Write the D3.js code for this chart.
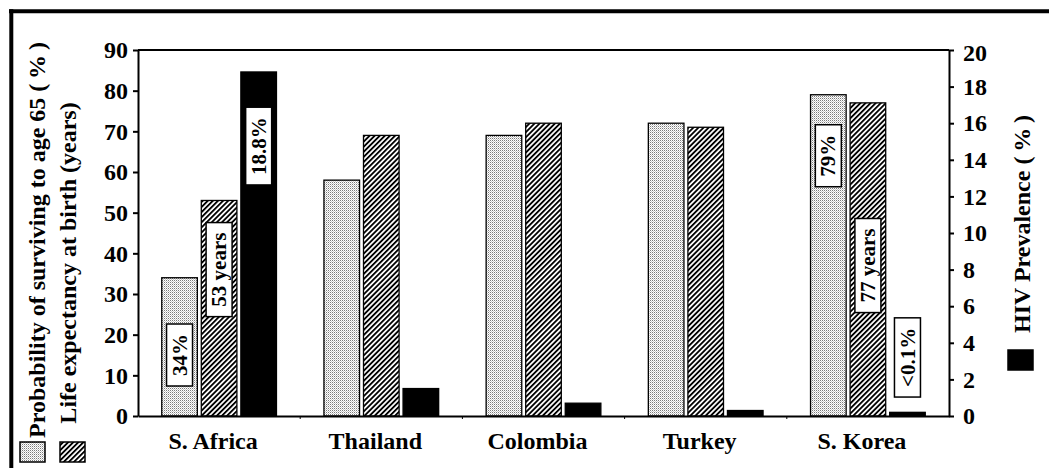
<!DOCTYPE html>
<html>
<head>
<meta charset="utf-8">
<script src="https://cdn.jsdelivr.net/npm/d3@7"></script>
<style>
  html, body { margin: 0; padding: 0; background: #fff; }
  svg { display: block; }
  text { font-family: "Liberation Serif", "Times New Roman", serif; font-weight: bold; fill: #000; }
</style>
</head>
<body>
<svg id="chart" width="1049" height="468"></svg>
<script>
// ---- data ----
const categories = ["S. Africa", "Thailand", "Colombia", "Turkey", "S. Korea"];
const seriesNames = ["Probability of surviving to age 65 (\u2009%\u2009)", "Life expectancy at birth (years)", "HIV Prevalence (\u2009%\u2009)"];
const survivalTo65 = [34, 58, 69, 72, 79];        // left axis, %
const lifeExpectancy = [53, 69, 72, 71, 77];       // left axis, years
const hivPrevalence = [18.8, 1.5, 0.7, 0.3, 0.2];  // right axis, %
const leftTicks = [0, 10, 20, 30, 40, 50, 60, 70, 80, 90];
const rightTicks = [0, 2, 4, 6, 8, 10, 12, 14, 16, 18, 20];
// boxed value labels: category, series index, text, centre value on that series' axis
const labelCategory = ["S. Africa", "S. Africa", "S. Africa", "S. Korea", "S. Korea", "S. Korea"];
const labelSeries = [0, 1, 2, 0, 1, 2];
const labelText = ["34%", "53 years", "18.8%", "79%", "77 years", "<0.1%"];
const labelCentre = [15, 36, 14.75, 64, 37, 3.2];

// ---- layout ----
const svg = d3.select("#chart");
const W = 1049, H = 468;
const plot = { left: 138, right: 949, top: 50, bottom: 416 };

const x0 = d3.scaleBand().domain(categories).range([plot.left, plot.right]).padding(0);
const x1 = d3.scaleBand().domain([0, 1, 2]).range([0, x0.bandwidth()]).paddingInner(0.1).paddingOuter(0.6);
const yL = d3.scaleLinear().domain([0, 90]).range([plot.bottom, plot.top]);
const yR = d3.scaleLinear().domain([0, 20]).range([plot.bottom, plot.top]);
const yFor = s => (s === 2 ? yR : yL);

// ---- patterns ----
const defs = svg.append("defs");
const dots = defs.append("pattern").attr("id", "stipple").attr("patternUnits", "userSpaceOnUse")
  .attr("width", 2).attr("height", 2);
dots.append("rect").attr("width", 2).attr("height", 2).attr("fill", "#fff");
dots.append("rect").attr("width", 1).attr("height", 1).attr("fill", "#7a7a7a");
dots.append("rect").attr("x", 1).attr("y", 1).attr("width", 1).attr("height", 1).attr("fill", "#c8c8c8");

const hatch = defs.append("pattern").attr("id", "hatch").attr("patternUnits", "userSpaceOnUse")
  .attr("width", 3.6).attr("height", 10).attr("patternTransform", "rotate(45)");
hatch.append("rect").attr("width", 3.6).attr("height", 10).attr("fill", "#fff");
hatch.append("line").attr("x1", 0.9).attr("x2", 0.9).attr("y1", 0).attr("y2", 10)
  .attr("stroke", "#000").attr("stroke-width", 1.9);

const fills = ["url(#stipple)", "url(#hatch)", "#000"];

svg.append("rect").attr("width", W).attr("height", H).attr("fill", "#fff");

// outer frame (top and left)
svg.append("line").attr("x1", 9).attr("x2", W).attr("y1", 11.3).attr("y2", 11.3)
  .attr("stroke", "#000").attr("stroke-width", 4);
svg.append("line").attr("x1", 11.3).attr("x2", 11.3).attr("y1", 9.3).attr("y2", H)
  .attr("stroke", "#000").attr("stroke-width", 4);

// ---- bars ----
const seriesValues = [survivalTo65, lifeExpectancy, hivPrevalence];
const barData = [];
categories.forEach((c, i) => seriesValues.forEach((vals, s) => barData.push({ c, s, v: vals[i] })));

svg.append("g").selectAll("rect").data(barData).join("rect")
  .attr("x", d => x0(d.c) + x1(d.s))
  .attr("width", x1.bandwidth())
  .attr("y", d => yFor(d.s)(d.v))
  .attr("height", d => plot.bottom - yFor(d.s)(d.v))
  .attr("fill", d => fills[d.s])
  .attr("stroke", "#000").attr("stroke-width", 1.3);

// ---- axes ----
const axL = svg.append("g").attr("transform", `translate(${plot.left},0)`)
  .call(d3.axisLeft(yL).tickValues(leftTicks).tickSize(5).tickSizeOuter(0).tickPadding(5));
const axR = svg.append("g").attr("transform", `translate(${plot.right},0)`)
  .call(d3.axisRight(yR).tickValues(rightTicks).tickSize(5).tickSizeOuter(0).tickPadding(9));
[axL, axR].forEach(a => {
  a.selectAll("path, line").attr("stroke", "#000").attr("stroke-width", 2);
  a.selectAll("text").style("font-size", "24px").attr("font-family", null).attr("fill", "#000");
});
axR.selectAll(".tick").filter(d => d === 20).select("text").attr("dy", "0.45em");

// top border of plot
svg.append("line").attr("x1", plot.left).attr("x2", plot.right)
  .attr("y1", yL(90)).attr("y2", yL(90)).attr("stroke", "#000").attr("stroke-width", 2);

// x axis
const axB = svg.append("g").attr("transform", `translate(0,${plot.bottom})`)
  .call(d3.axisBottom(x0).tickSize(0).tickPadding(16).tickSizeOuter(0));
axB.select("path").attr("stroke", "#000").attr("stroke-width", 2.2);
axB.selectAll("text").style("font-size", "24px").attr("font-family", null)
  .attr("dx", "-6").attr("fill", "#000");
// small tick marks at category boundaries
svg.append("g").selectAll("line").data(categories.slice(1)).join("line")
  .attr("x1", d => x0(d)).attr("x2", d => x0(d))
  .attr("y1", plot.bottom).attr("y2", plot.bottom + 3)
  .attr("stroke", "#000").attr("stroke-width", 1);

// ---- boxed value labels ----
const lab = svg.append("g");
labelText.forEach((t, i) => {
  const s = labelSeries[i];
  const cx = x0(labelCategory[i]) + x1(s) + x1.bandwidth() / 2;
  const cy = yFor(s)(labelCentre[i]);
  const g = lab.append("g").attr("transform", `translate(${cx},${cy}) rotate(-90)`);
  const rect = g.append("rect").attr("fill", "#fff").attr("stroke", "#000").attr("stroke-width", 1.5);
  const txt = g.append("text").attr("text-anchor", "middle").attr("dy", "0.34em")
    .style("font-size", "21px").text(t);
  const bb = txt.node().getBBox();
  const padX = 10;
  rect.attr("x", bb.x - padX).attr("width", bb.width + 2 * padX)
    .attr("y", -13).attr("height", 26);
});

// ---- axis titles & legend ----
svg.append("text").attr("transform", "translate(45,240) rotate(-90)")
  .attr("text-anchor", "middle").style("font-size", "24px").text(seriesNames[0]);
svg.append("text").attr("transform", "translate(76,263) rotate(-90)")
  .attr("text-anchor", "middle").style("font-size", "24px").text(seriesNames[1]);
svg.append("text").attr("transform", "translate(1030,224) rotate(-90)")
  .attr("text-anchor", "middle").style("font-size", "24px").text(seriesNames[2]);

const legendPos = [[20, 442], [60, 442], [1008, 350]];
svg.append("g").selectAll("rect").data(seriesNames).join("rect")
  .attr("x", (d, i) => legendPos[i][0]).attr("y", (d, i) => legendPos[i][1])
  .attr("width", 25).attr("height", 20)
  .attr("fill", (d, i) => fills[i]).attr("stroke", "#000").attr("stroke-width", 1.5);
</script>
</body>
</html>
